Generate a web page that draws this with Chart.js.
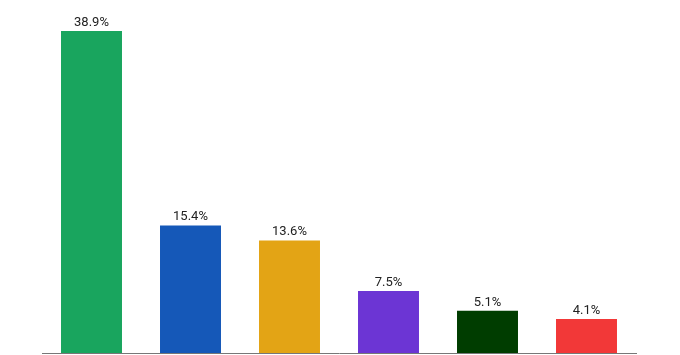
<!DOCTYPE html>
<html lang="en">
  <head>
    <meta charset="UTF-8" />
    <title>Share</title>
    <script src="https://cdn.jsdelivr.net/npm/chart.js@4/dist/chart.umd.min.js"></script>
    <style>
      html, body { margin: 0; padding: 0; background: #fff; }
      #wrap { width: 680px; height: 355px; }
    </style>
  </head>

  <body>
    <div id="wrap">
      <canvas id="myChart"></canvas>
    </div>

    <script>
      const categories = ["1", "2", "3", "4", "5", "6"];
      const shares = [38.9, 15.4, 13.6, 7.5, 5.1, 4.1];
      const barColors = ["#19a55e", "#1558b8", "#e3a415", "#6c35d4", "#003d00", "#f23838"];

      // percent labels above each bar
      const valueLabels = {
        id: "valueLabels",
        afterDatasetsDraw(chart) {
          const ctx = chart.ctx;
          const meta = chart.getDatasetMeta(0);
          ctx.save();
          ctx.font = "13px Roboto";
          ctx.fillStyle = "#222";
          ctx.textAlign = "center";
          ctx.textBaseline = "bottom";
          meta.data.forEach((bar, i) => {
            ctx.fillText(shares[i].toFixed(1) + "%", bar.x, bar.y - 2);
          });
          ctx.restore();
        },
      };

      const ctx = document.getElementById("myChart");
      const myChart = new Chart(ctx, {
        type: "bar",
        data: {
          labels: categories,
          datasets: [
            {
              data: shares,
              backgroundColor: barColors,
              categoryPercentage: 1,
              barPercentage: 0.616,
            },
          ],
        },
        options: {
          responsive: true,
          maintainAspectRatio: false,
          animation: false,
          layout: { padding: { left: 42, right: 44, top: 0, bottom: -6 } },
          plugins: { legend: { display: false }, tooltip: { enabled: false } },
          scales: {
            x: {
              grid: { display: false },
              ticks: { display: false, padding: 0 },
              border: { display: true, color: "#777", width: 1 },
            },
            y: {
              display: false,
              min: 0,
              max: 42.64,
            },
          },
        },
        plugins: [valueLabels],
      });
    </script>
  </body>
</html>
